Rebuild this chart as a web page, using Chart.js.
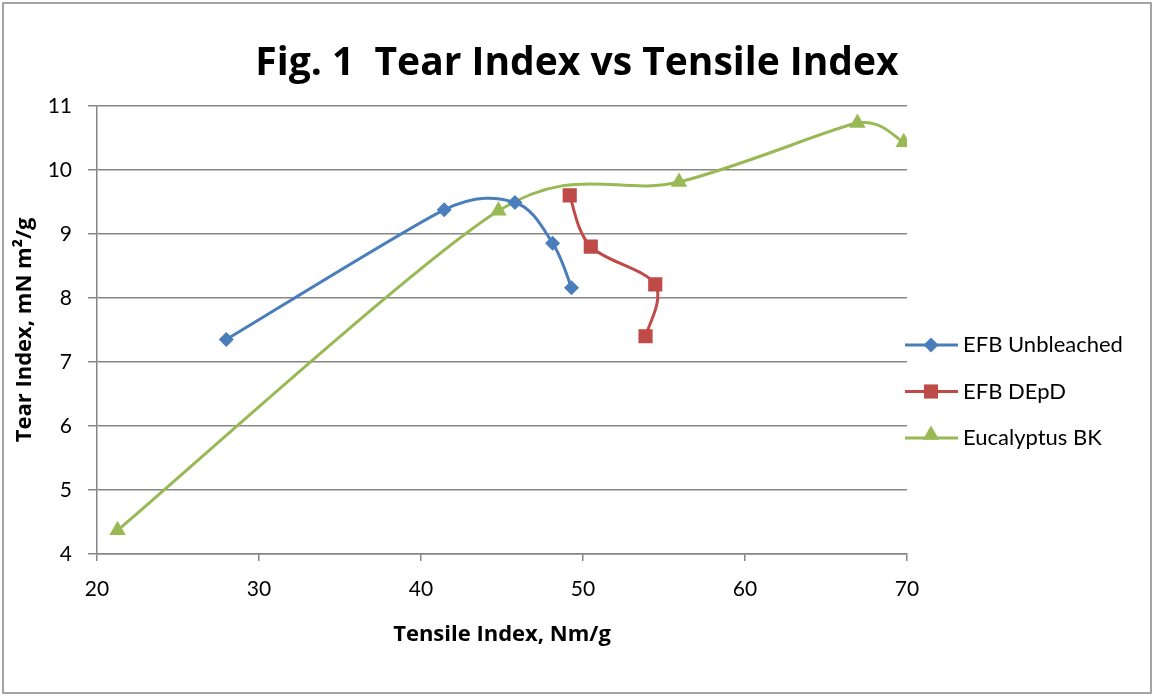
<!DOCTYPE html>
<html>
<head>
<meta charset="utf-8">
<script src="https://cdn.jsdelivr.net/npm/chart.js@4.4.1/dist/chart.umd.min.js"></script>
<style>
  html, body { margin: 0; padding: 0; background: #fff; }
  #wrap { width: 1154px; height: 696px; }
</style>
</head>
<body>
<div id="wrap"><canvas id="chart" width="1154" height="696"></canvas></div>
<script>
// data
var seriesNames = ['EFB Unbleached', 'EFB DEpD', 'Eucalyptus BK'];
var unbleachedX = [27.98, 41.43, 45.80, 48.12, 49.29];
var unbleachedY = [7.35, 9.375, 9.49, 8.855, 8.16];
var depdX = [49.18, 50.48, 54.46, 53.86];
var depdY = [9.60, 8.80, 8.21, 7.40];
var eucX = [21.27, 44.78, 55.93, 66.94, 69.80];
var eucY = [4.37, 9.36, 9.81, 10.73, 10.43];
var xTicks = [20, 30, 40, 50, 60, 70];
var yTicks = [4, 5, 6, 7, 8, 9, 10, 11];

var FONT = 'Lato, Carlito, Calibri, "Liberation Sans", sans-serif';
var BOLD = '"Open Sans", Carlito, Calibri, "Liberation Sans", sans-serif';
var GRID = '#868686';

function pairs(xs, ys) {
    var out = [];
    for (var i = 0; i < xs.length; i++) out.push({ x: xs[i], y: ys[i] });
    return out;
}

function series(label, xs, ys, color, style, radius) {
    return {
        label: label,
        data: pairs(xs, ys),
        showLine: true,
        borderColor: color,
        backgroundColor: color,
        borderWidth: 3,
        tension: 0.5,
        pointStyle: style,
        pointRadius: radius,
        pointHoverRadius: radius,
        pointBorderWidth: 0,
        pointBackgroundColor: color
    };
}

// Excel style smoothing: Catmull-Rom tangents (1/6), capped at half the neighbouring segment
var excelSmooth = {
    id: 'excelSmooth',
    afterDatasetsUpdate: function(chart) {
        chart.data.datasets.forEach(function(ds, di) {
            var meta = chart.getDatasetMeta(di);
            var pts = meta.data;
            var n = pts.length;
            for (var i = 0; i < n; i++) {
                var p = pts[i];
                var prev = pts[Math.max(i - 1, 0)];
                var next = pts[Math.min(i + 1, n - 1)];
                var vx = next.x - prev.x, vy = next.y - prev.y;
                var d02 = Math.hypot(vx, vy);
                var d01 = i > 0 ? Math.hypot(p.x - prev.x, p.y - prev.y) : Infinity;
                var d12 = i < n - 1 ? Math.hypot(next.x - p.x, next.y - p.y) : Infinity;
                var f = 1 / 6;
                var lim = Math.min(d01, d12) / 2;
                if (d02 > 0 && d02 * f > lim) f = lim / d02;
                p.cp1x = p.x - f * vx;
                p.cp1y = p.y - f * vy;
                p.cp2x = p.x + f * vx;
                p.cp2y = p.y + f * vy;
            }
            if (meta.dataset) meta.dataset._pointsUpdated = true;
        });
    }
};

// outer frame + white background
var framePlugin = {
    id: 'frame',
    beforeDraw: function(chart) {
        var ctx = chart.ctx;
        ctx.save();
        ctx.fillStyle = '#fff';
        ctx.fillRect(0, 0, chart.width, chart.height);
        ctx.strokeStyle = GRID;
        ctx.lineWidth = 1.5;
        ctx.strokeRect(3, 3, chart.width - 6, chart.height - 6);
        ctx.restore();
    }
};

// Excel-like legend: line sample with marker in the middle
var legendPlugin = {
    id: 'lineLegend',
    afterDraw: function(chart) {
        var ctx = chart.ctx;
        var x0 = chart.chartArea.right - 2;
        var ys = [345, 391.5, 438];
        ctx.save();
        chart.data.datasets.forEach(function(ds, i) {
            var y = ys[i];
            ctx.strokeStyle = ds.borderColor;
            ctx.lineWidth = 3;
            ctx.beginPath();
            ctx.moveTo(x0, y);
            ctx.lineTo(x0 + 53, y);
            ctx.stroke();
            ctx.fillStyle = ds.pointBackgroundColor;
            Chart.helpers.drawPoint(ctx, {
                pointStyle: ds.pointStyle,
                radius: ds.pointRadius,
                rotation: 0,
                borderWidth: 0
            }, x0 + 26, ds.pointStyle === 'triangle' ? y - 3 : y);
            ctx.fillStyle = '#000';
            ctx.font = '22px ' + FONT;
            ctx.textBaseline = 'middle';
            ctx.textAlign = 'left';
            ctx.fillText(ds.label, x0 + 58, y);
        });
        ctx.restore();
    }
};

new Chart(document.getElementById('chart'), {
    type: 'scatter',
    data: {
        datasets: [
            series(seriesNames[0], unbleachedX, unbleachedY, '#4A7EBB', 'rectRot', 7.5),
            series(seriesNames[1], depdX, depdY, '#BE4B48', 'rect', 10),
            series(seriesNames[2], eucX, eucY, '#98B954', 'triangle', 9.5)
        ]
    },
    options: {
        responsive: false,
        animation: false,
        events: [],
        layout: { padding: { left: 0, right: 0, top: 0, bottom: 40 } },
        plugins: {
            legend: { display: false },
            tooltip: { enabled: false },
            title: {
                display: true,
                text: 'Fig. 1  Tear Index vs Tensile Index',
                color: '#000',
                font: { family: BOLD, size: 39, weight: 'bold' },
                padding: { top: 40, bottom: 19 }
            }
        },
        scales: {
            x: {
                type: 'linear',
                min: 20,
                max: 70,
                afterBuildTicks: function(axis) {
                    axis.ticks = xTicks.map(function(v) { return { value: v }; });
                },
                afterFit: function(axis) { axis.height = 102; },
                grid: { drawOnChartArea: false, drawTicks: true, tickLength: 7, color: GRID, lineWidth: 1.5 },
                border: { display: true, color: GRID, width: 1.5 },
                ticks: { color: '#000', padding: 16, font: { family: FONT, size: 21 } },
                title: {
                    display: true,
                    text: 'Tensile Index, Nm/g',
                    color: '#000',
                    font: { family: BOLD, size: 22, weight: 'bold' },
                    padding: { top: 0, bottom: 8 }
                }
            },
            y: {
                type: 'linear',
                min: 4,
                max: 11,
                afterBuildTicks: function(axis) {
                    axis.ticks = yTicks.map(function(v) { return { value: v }; });
                },
                afterFit: function(axis) { axis.width = 97; },
                grid: { drawOnChartArea: true, drawTicks: true, tickLength: 9, color: GRID, lineWidth: 1.5 },
                border: { display: true, color: GRID, width: 1.5 },
                ticks: { color: '#000', padding: 16, font: { family: FONT, size: 21 } },
                title: {
                    display: true,
                    text: 'Tear Index, mN m\u00B2/g',
                    color: '#000',
                    font: { family: BOLD, size: 22, weight: 'bold' },
                    padding: { top: 12, bottom: 0 }
                }
            },
            // empty right-hand box that keeps room for the legend
            legendSpace: {
                type: 'linear',
                position: 'right',
                display: true,
                afterFit: function(axis) { axis.width = 247; },
                grid: { display: false },
                border: { display: false },
                ticks: { display: false }
            }
        }
    },
    plugins: [excelSmooth, framePlugin, legendPlugin]
});
</script>
</body>
</html>
